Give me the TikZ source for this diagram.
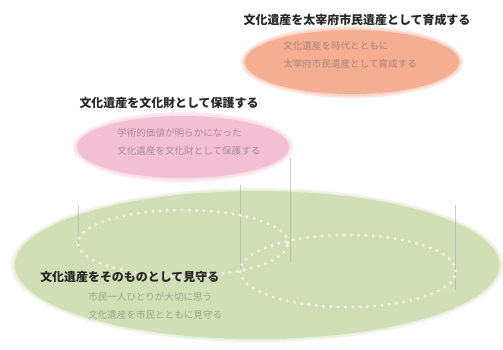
\documentclass[tikz,border=0pt]{standalone}
\usepackage{fontspec}
\newfontfamily\jp{Noto Sans CJK JP}
\usetikzlibrary{shapes.geometric}
\definecolor{greenfill}{HTML}{D2DFB6}
\definecolor{pinkfill}{HTML}{F3C0D3}
\definecolor{orangefill}{HTML}{F5AE92}
\definecolor{greentext}{HTML}{9DAA8C}
\definecolor{pinktext}{HTML}{B08A9C}
\definecolor{orangetext}{HTML}{B08878}
\definecolor{guide}{HTML}{A8A8A8}
\definecolor{dotcol}{HTML}{FBFBF0}
\tikzset{
  blob/.style={ellipse, inner sep=0pt, draw=none},
  halo/.style={ellipse, inner sep=0pt, draw=none, opacity=0.3},
  dotring/.style={ellipse, inner sep=0pt, draw=dotcol, line width=2.1pt, line cap=round, dash pattern=on 0pt off 5.2pt},
  titletext/.style={font=\jp\bfseries\fontsize{8.5}{10}\selectfont, text=black!85, inner sep=0pt},
  bodytext/.style={font=\jp\fontsize{6.8}{12.5}\selectfont, align=left, inner sep=0pt, anchor=west},
  guideline/.style={draw=guide, line width=0.35pt, opacity=0.55}
}
\begin{document}
\begin{tikzpicture}[x=0.025cm,y=-0.025cm]
\useasboundingbox (0,0) rectangle (503,349);
% green base
\node[halo, fill=greenfill, minimum width=12.3cm, minimum height=3.85cm] (greenhalo1) at (257,265) {};
\node[halo, fill=greenfill, minimum width=12.2cm, minimum height=3.77cm] (greenhalo2) at (257,265) {};
\node[blob, fill=greenfill, minimum width=12.1cm, minimum height=3.7cm] (green) at (257,265) {};
% guide lines
\coordinate (g1a) at (78,205); \coordinate (g1b) at (78,248);
\coordinate (g2a) at (240,185); \coordinate (g2b) at (240,268);
\coordinate (g3a) at (290,158); \coordinate (g3b) at (290,262);
\coordinate (g4a) at (455,205); \coordinate (g4b) at (455,290);
\draw[guideline] (g1a) -- (g1b);
\draw[guideline] (g2a) -- (g2b);
\draw[guideline] (g3a) -- (g3b);
\draw[guideline] (g4a) -- (g4b);
% dotted rings
\node[dotring, minimum width=5.25cm, minimum height=1.65cm] (ringL) at (183,243) {};
\node[dotring, minimum width=5.4cm, minimum height=1.8cm] (ringR) at (348,271) {};
% pink
\node[halo, fill=pinkfill, minimum width=5.5cm, minimum height=1.75cm] (pinkhalo1) at (183,147) {};
\node[halo, fill=pinkfill, minimum width=5.4cm, minimum height=1.65cm] (pinkhalo2) at (183,147) {};
\node[blob, fill=pinkfill, minimum width=5.3cm, minimum height=1.55cm] (pink) at (183,147) {};
% orange
\node[halo, fill=orangefill, minimum width=5.55cm, minimum height=1.8cm] (orangehalo1) at (352,62) {};
\node[halo, fill=orangefill, minimum width=5.45cm, minimum height=1.7cm] (orangehalo2) at (352,62) {};
\node[blob, fill=orangefill, minimum width=5.35cm, minimum height=1.6cm] (orange) at (352,62) {};
% texts
\node[titletext] (t1) at (357,20) {文化遺産を太宰府市民遺産として育成する};
\node[bodytext, text=orangetext] (b1) at (283,55) {文化遺産を時代とともに\\太宰府市民遺産として育成する};
\node[titletext] (t2) at (169,103) {文化遺産を文化財として保護する};
\node[bodytext, text=pinktext] (b2) at (117,142) {学術的価値が明らかになった\\文化遺産を文化財として保護する};
\node[titletext, anchor=west] (t3) at (40,277) {文化遺産をそのものとして見守る};
\node[bodytext, text=greentext] (b3) at (88,306) {市民一人ひとりが大切に思う\\文化遺産を市民とともに見守る};
\end{tikzpicture}
\end{document}
